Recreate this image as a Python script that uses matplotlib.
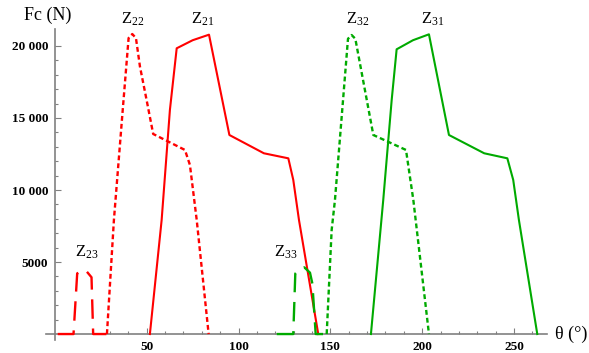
import numpy as np
import matplotlib.pyplot as plt

plt.rcParams['font.family'] = ['Liberation Serif', 'DejaVu Serif']
plt.rcParams['mathtext.fontset'] = 'custom'
plt.rcParams['mathtext.rm'] = 'Liberation Serif'
plt.rcParams['mathtext.it'] = 'Liberation Serif:italic'
plt.rcParams['lines.scale_dashes'] = False

# curves: angle (deg), contact force (N)
z21_t = [51.7, 58.1, 62.6, 66.3, 75.0, 83.9, 95.0, 113.8, 127.1, 129.8, 132.9, 143.4]
z21_f = [0, 7920, 15560, 19840, 20400, 20785, 13820, 12550, 12200, 10700, 7920, 0]

z22_t = [28.3, 32.1, 36.9, 40.1, 42.1, 44.1, 46.3, 49.9, 53.5, 70.8, 73.5, 77.2, 83.7]
z22_f = [0, 7920, 15560, 20550, 20830, 20550, 18560, 16250, 13890, 12780, 11740, 7920, 0]

z23_t = [1.5, 10.1, 12.1, 14.5, 16.9, 19.9, 20.8, 28.0]
z23_f = [0, 0, 4210, 4380, 4400, 3940, 0, 0]

z31_t = [172.1, 178.8, 183.4, 186.1, 195.0, 203.7, 214.6, 233.8, 246.4, 249.6, 252.7, 262.7]
z31_f = [0, 9300, 16250, 19770, 20400, 20810, 13820, 12550, 12200, 10700, 7920, 0]

z32_t = [148.0, 150.7, 152.5, 159.6, 161.6, 163.6, 173.4, 191.2, 195.2, 203.7]
z32_f = [0, 7220, 9300, 20500, 20760, 20500, 13820, 12780, 9300, 0]

z33_t = [120.8, 129.8, 130.9, 133.5, 135.8, 138.9, 140.2, 142.0, 146.0]
z33_f = [0, 0, 4200, 4500, 4630, 4260, 3500, 0, 0]

xticks = [50, 100, 150, 200, 250]
yticks = [5000, 10000, 15000, 20000]
ytick_labels = ["5000", "10 000", "15 000", "20 000"]

labels = ["Z$_{22}$", "Z$_{21}$", "Z$_{32}$", "Z$_{31}$", "Z$_{23}$", "Z$_{33}$"]
label_pos = [(42.5, 21850), (80.5, 21850), (165.0, 21850), (205.5, 21850), (17.5, 5700), (125.5, 5700)]

red = '#ff0000'
green = '#00aa00'
dotted = (0, (3.5, 2.2))
dashed = (0, (14, 7))

fig = plt.figure(figsize=(5.89, 3.53), dpi=100)
ax = fig.add_axes([45.8 / 589, (353 - 339.8) / 353, (547 - 45.8) / 589, (339.8 - 28.7) / 353])

ax.plot(z21_t, z21_f, color=red, lw=1.5, zorder=3)
ax.plot(z22_t, z22_f, color=red, lw=1.7, linestyle=dotted, zorder=3)
ax.plot(z23_t, z23_f, color=red, lw=1.7, linestyle=dashed, zorder=3)
ax.plot(z31_t, z31_f, color=green, lw=1.5, zorder=3)
ax.plot(z32_t, z32_f, color=green, lw=1.7, linestyle=dotted, zorder=3)
ax.plot(z33_t, z33_f, color=green, lw=1.7, linestyle=dashed, zorder=3)

ax.set_xlim(-5, 268)
ax.set_ylim(-400, 21200)

for s in ['top', 'right']:
    ax.spines[s].set_visible(False)
ax.spines['left'].set_position(('data', 0))
ax.spines['bottom'].set_position(('data', 0))
for s in ['left', 'bottom']:
    ax.spines[s].set_color('#808080')
    ax.spines[s].set_linewidth(1.2)
    ax.spines[s].set_zorder(2)

ax.set_xticks(xticks)
ax.set_xticklabels([str(v) for v in xticks])
ax.set_xticks(np.arange(10, 265, 10), minor=True)
ax.set_yticks(yticks)
ax.set_yticklabels(ytick_labels)
ax.set_yticks(np.arange(1000, 21000, 1000), minor=True)

ax.tick_params(which='both', direction='in', color='#808080', width=0.8)
ax.tick_params(which='major', length=4.5)
ax.tick_params(which='minor', length=2.5)
ax.tick_params(axis='x', which='major', pad=5)
ax.tick_params(axis='y', which='major', pad=5)
for lab in ax.get_xticklabels() + ax.get_yticklabels():
    lab.set_fontweight('bold')
    lab.set_fontsize(9.5)

for txt, (tx, ty) in zip(labels, label_pos):
    ax.text(tx, ty, txt, fontsize=12, ha='center', va='center', clip_on=False)

fig.text(48 / 589, 1 - 15 / 353, "Fc (N)", fontsize=13, ha='center', va='center')
fig.text(555 / 589, 1 - 334 / 353, "θ (°)", fontsize=13, ha='left', va='center')

plt.savefig("out.png", dpi=100)
